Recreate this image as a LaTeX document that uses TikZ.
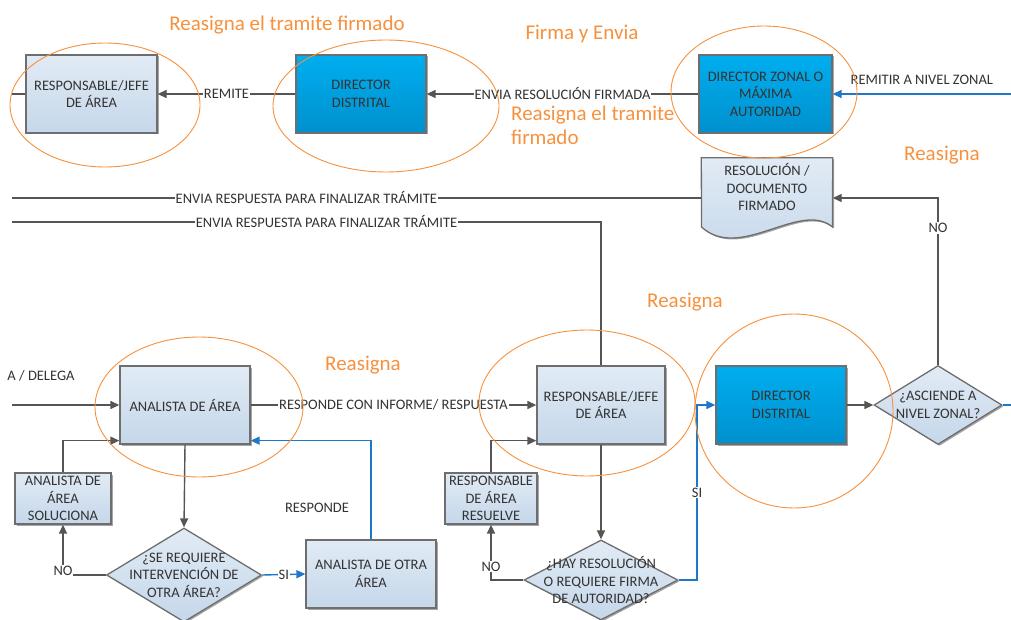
\documentclass[tikz,border=0pt]{standalone}
\usepackage{fontspec}
\setmainfont{Carlito}
\usetikzlibrary{arrows.meta,shapes.geometric,shadows,calc}
\definecolor{boxtop}{HTML}{E1EBF5}
\definecolor{boxbot}{HTML}{C5D7EA}
\definecolor{boxline}{HTML}{6E6E6E}
\definecolor{darktop}{HTML}{00AEEF}
\definecolor{darkbot}{HTML}{0090CE}
\definecolor{txt}{HTML}{333333}
\definecolor{conn}{HTML}{555555}
\definecolor{bconn}{HTML}{1F77C9}
\definecolor{orng}{HTML}{F7913D}
\begin{document}
\begin{tikzpicture}[x=1pt,y=-1pt,
  every node/.style={font=\fontsize{14.5}{17.5}\selectfont, text=txt},
  shadowed/.style={drop shadow={shadow xshift=1.5pt, shadow yshift=-1.5pt, opacity=0.35, fill=black}},
  lbox/.style={draw=boxline, line width=1.3pt, top color=boxtop, bottom color=boxbot, align=center, inner sep=1pt, shadowed},
  dbox/.style={draw=boxline, line width=1.3pt, top color=darktop, bottom color=darkbot, align=center, inner sep=1pt, shadowed},
  dia/.style={diamond, draw=boxline, line width=1.3pt, top color=boxtop, bottom color=boxbot, inner sep=0pt, shadowed},
  dtext/.style={align=center, inner sep=0pt},
  arr/.style={draw=conn, line width=1.4pt, -{Triangle[length=9pt,width=8pt]}},
  pline/.style={draw=conn, line width=1.4pt},
  barr/.style={draw=bconn, line width=1.4pt, -{Triangle[length=9pt,width=8pt]}},
  bline/.style={draw=bconn, line width=1.4pt},
  lbl/.style={fill=white, inner sep=1pt},
  ring/.style={draw=orng, line width=0.9pt},
  otext/.style={font=\fontsize{21}{24}\selectfont, text=orng, inner sep=0pt}
]
\useasboundingbox (0,0) rectangle (1011,620);
\fill[white] (0,0) rectangle (1011,620);

% ---------- top row ----------
\node[lbox, minimum width=131, minimum height=78] (rjt) at (91.5,94) {RESPONSABLE/JEFE\\DE ÁREA};
\node[dbox, minimum width=130, minimum height=78] (ddt) at (361,94) {DIRECTOR\\DISTRITAL};
\node[dbox, minimum width=133, minimum height=78] (dz) at (765.5,94) {DIRECTOR ZONAL O\\MÁXIMA\\AUTORIDAD};

% document shape
\node[minimum width=131, minimum height=80, inner sep=0pt] (doc) at (767,198) {};
\draw[draw=boxline, line width=1.3pt, top color=boxtop, bottom color=boxbot, shadowed]
  (doc.north west) -- (doc.north east) -- (832.5,227)
  .. controls (800,200) and (740,262) .. (701.5,227) -- cycle;
\node[dtext] (doct) at (767,187) {RESOLUCIÓN /\\DOCUMENTO\\FIRMADO};

% ---------- middle row ----------
\node[lbox, minimum width=130, minimum height=78] (an) at (185,405) {ANALISTA DE ÁREA};
\node[lbox, minimum width=128, minimum height=78] (jm) at (601,405) {RESPONSABLE/JEFE\\DE ÁREA};
\node[dbox, minimum width=130, minimum height=78] (ddm) at (781,405) {DIRECTOR\\DISTRITAL};
\node[dia, minimum width=128, minimum height=79] (asc) at (938,405) {};
\node[dtext] (asct) at (938,405) {¿ASCIENDE A\\NIVEL ZONAL?};

% ---------- bottom row ----------
\node[lbox, minimum width=96, minimum height=51] (sol) at (63,498.5) {ANALISTA DE\\ÁREA\\SOLUCIONA};
\node[lbox, minimum width=92, minimum height=51] (res) at (491,498.5) {RESPONSABLE\\DE ÁREA\\RESUELVE};
\node[lbox, minimum width=130, minimum height=68] (oa) at (371,574) {ANALISTA DE OTRA\\ÁREA};
\node[dia, minimum width=155, minimum height=94] (d1) at (184,575) {};
\node[dtext] (d1t) at (184,575) {¿SE REQUIERE\\INTERVENCIÓN DE\\OTRA ÁREA?};
\node[dia, minimum width=154, minimum height=80] (d2) at (601,580) {};
\node[dtext] (d2t) at (601,580) {¿HAY RESOLUCIÓN\\O REQUIERE FIRMA\\DE AUTORIDAD?};

% ---------- free ends ----------
\coordinate (lt) at (12,94);
\coordinate (rz) at (1011,94);
\coordinate (l1) at (12,198);
\coordinate (l2) at (12,222);
\coordinate (c2) at (601,222);
\coordinate (cno) at (938,198);
\coordinate (ld) at (12,405);
\coordinate (ra) at (1011,405);
\coordinate (hc) at (697,580);

% ---------- connectors ----------
\draw[pline] (lt) -- (rjt.west);
\draw[arr] (ddt.west) -- node[lbl]{REMITE} (rjt.east);
\draw[arr] (dz.west) -- node[lbl]{ENVIA RESOLUCIÓN FIRMADA} (ddt.east);
\draw[barr] (rz) -- node[above=9pt, inner sep=0pt]{REMITIR A NIVEL ZONAL} (dz.east);
\draw[pline] (doc.west) -- node[lbl, pos=0.573]{ENVIA RESPUESTA PARA FINALIZAR TRÁMITE} (l1);
\draw[pline] (jm.north) -- (c2) -- node[lbl, pos=0.466]{ENVIA RESPUESTA PARA FINALIZAR TRÁMITE} (l2);
\draw[arr] (asc.north) -- node[lbl, pos=0.82]{NO} (cno) -- (doc.east);

\draw[arr] (ld) -- (an.west);
\node (deleg) at (41,376) {A / DELEGA};
\draw[arr] (an.east) -- node[lbl]{RESPONDE CON INFORME/ RESPUESTA} (jm.west);
\draw[arr] (an.south) -- (d1.north);
\draw[arr] (d1.west) -| node[lbl, pos=0.54]{NO} (sol.south);
\draw[arr] (sol.north) |- ($(an.south west)+(0,-4)$);
\draw[barr] (d1.east) -- node[lbl]{SI} (oa.west);
\draw[barr] (oa.north) |- node[left=18pt, pos=0.16]{RESPONDE} ($(an.south east)+(0,-4)$);

\draw[arr] (jm.south) -- (d2.north);
\draw[arr] (d2.west) -| node[lbl, pos=0.62]{NO} (res.south);
\draw[arr] (res.north) |- ($(jm.south west)+(0,-4)$);
\draw[barr] (d2.east) -- (hc) -- node[lbl]{SI} (hc |- ddm.west) -- (ddm.west);
\draw[arr] (ddm.east) -- (asc.west);
\draw[bline] (asc.east) -- (ra);

% ---------- orange annotations ----------
\draw[ring] (105,105) ellipse [x radius=95, y radius=62];
\draw[ring] (386,106) ellipse [x radius=113, y radius=66];
\draw[ring] (764,92) ellipse [x radius=93, y radius=66];
\draw[ring] (199,407) ellipse [x radius=104, y radius=70];
\draw[ring] (587,403) ellipse [x radius=108, y radius=73];
\draw[ring] (794,411) ellipse [x radius=99, y radius=97];

\node[otext] (o1) at (287,25) {Reasigna el tramite firmado};
\node[otext] (o2) at (582,34) {Firma y Envia};
\node[otext, align=left, anchor=west] (o3) at (511,125) {Reasigna el tramite\\firmado};
\node[otext] (o4) at (942,155) {Reasigna};
\node[otext] (o5) at (363,365) {Reasigna};
\node[otext] (o6) at (685,302) {Reasigna};
\end{tikzpicture}
\end{document}
